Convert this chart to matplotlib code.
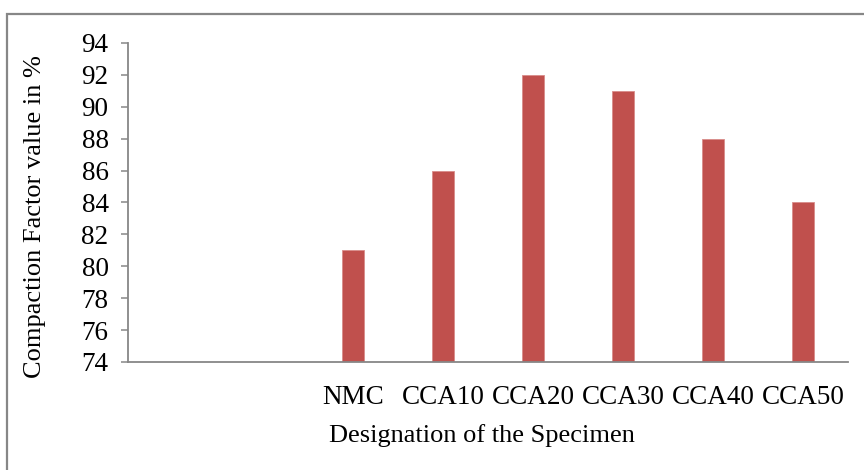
import numpy as np
import matplotlib
matplotlib.use("Agg")
import matplotlib.pyplot as plt
from matplotlib.patches import Rectangle

# Specimen designations (two leading empty slots on the category axis)
categories = ["", "", "NMC", "CCA10", "CCA20", "CCA30", "CCA40", "CCA50"]
compaction_factor = [np.nan, np.nan, 81, 86, 92, 91, 88, 84]
y_ticks = [74, 76, 78, 80, 82, 84, 86, 88, 90, 92, 94]

plt.rcParams["font.family"] = ["Liberation Serif", "DejaVu Serif"]

W, H = 864, 470
fig = plt.figure(figsize=(W / 100, H / 100), dpi=100)

# outer chart-area frame
fig.patches.append(Rectangle((7 / W, 0 - 0.01), 1.0, 1 - 14 / H + 0.01,
                             transform=fig.transFigure, fill=False,
                             edgecolor="#878787", linewidth=1.6, zorder=0))

ax = fig.add_axes([128 / W, 108 / H, 720 / W, 319 / H])

x = np.arange(len(categories))
vals = np.array(compaction_factor, dtype=float)
mask = ~np.isnan(vals)
ax.bar(x[mask], vals[mask], width=0.25, color="#C0504D",
       edgecolor="#D88C8A", linewidth=0.6, zorder=2)

ax.set_xlim(-0.5, len(categories) - 0.5)
ax.set_ylim(y_ticks[0], y_ticks[-1])
ax.set_yticks(y_ticks)
ax.set_xticks(x)
ax.set_xticklabels(categories)

for s in ("top", "right"):
    ax.spines[s].set_visible(False)
for s in ("left", "bottom"):
    ax.spines[s].set_color("#878787")
    ax.spines[s].set_linewidth(1.3)

ax.tick_params(axis="y", direction="out", length=5, width=1.1,
               color="#878787", labelsize=19.5, pad=9)
ax.tick_params(axis="x", length=0, labelsize=19.5, pad=16.5)

fig.text(35 / W, 1 - 217 / H, "Compaction Factor value in %",
         rotation=90, ha="center", va="center", fontsize=19)
fig.text(482 / W, 1 - 436 / H, "Designation of the Specimen",
         ha="center", va="center", fontsize=19)

fig.savefig("out.png", dpi=100)
